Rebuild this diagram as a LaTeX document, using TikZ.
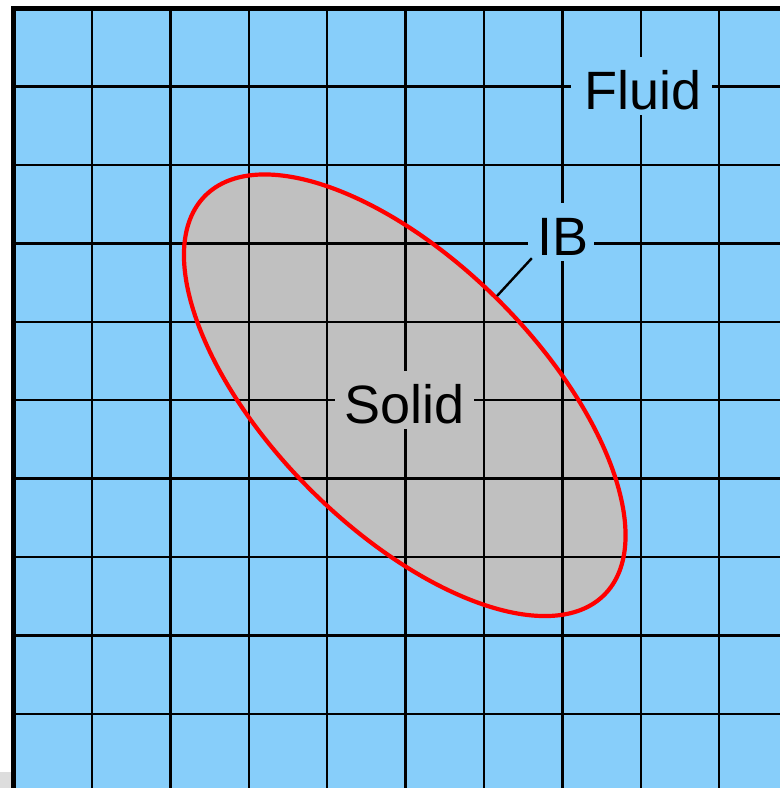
\documentclass[tikz,border=0pt]{standalone}
\usepackage{fontspec}
\setmainfont{Liberation Sans}
\definecolor{fluidblue}{RGB}{135,206,250}
\definecolor{solidgray}{RGB}{192,192,192}
\definecolor{pagegray}{RGB}{221,221,221}
\tikzset{
  gridline/.style={black,line width=2.4pt},
  borderline/.style={black,line width=5pt},
  label/.style={fill=fluidblue,inner xsep=10pt,inner ysep=0pt,text height=52pt,text depth=6pt,anchor=base,font=\fontsize{54}{60}\selectfont},
  solidlabel/.style={label,fill=solidgray},
  boundary/.style={red,line width=4.2pt},
  leader/.style={black,line width=2.4pt}
}
\begin{document}
\begin{tikzpicture}[x=1pt,y=-1pt]
\useasboundingbox (0,0) rectangle (780,788);
% page artefact bottom-left
\fill[pagegray] (0,772) rectangle (11,788);
% fluid background
\fill[fluidblue] (13.5,8.2) rectangle (780,788);
% solid body fill
\fill[solidgray, rotate around={-45:(404.75,395.25)}] (404.75,395.25) ellipse [x radius=282.2, y radius=133.5];
% grid
\begin{scope}
\clip (13.5,8.2) rectangle (780,788);
\foreach \k in {1,...,9} {
  \draw[gridline] ({13.5+78.4*\k},0) -- ({13.5+78.4*\k},788);
  \draw[gridline] (0,{8.2+78.4*\k}) -- (780,{8.2+78.4*\k});
}
\end{scope}
% border
\draw[borderline] (13.5,788) -- (13.5,8.2) -- (780,8.2);
% immersed boundary
\draw[boundary, rotate around={-45:(404.75,395.25)}] (404.75,395.25) ellipse [x radius=282.2, y radius=133.5];
% labels
\node[label,inner xsep=10.5pt] (fluid) at (641.5,109) {\hspace{3pt}Fluid};
\node[label,inner xsep=5.75pt] (ib) at (561,255) {\hspace{3.5pt}IB};
\node[solidlabel,inner xsep=9.5pt] (solid) at (404.5,423) {Solid};
\coordinate (ibend) at (497,296);
\draw[leader] ([shift={(4,-3)}]ib.south west) -- (ibend);
\end{tikzpicture}
\end{document}
